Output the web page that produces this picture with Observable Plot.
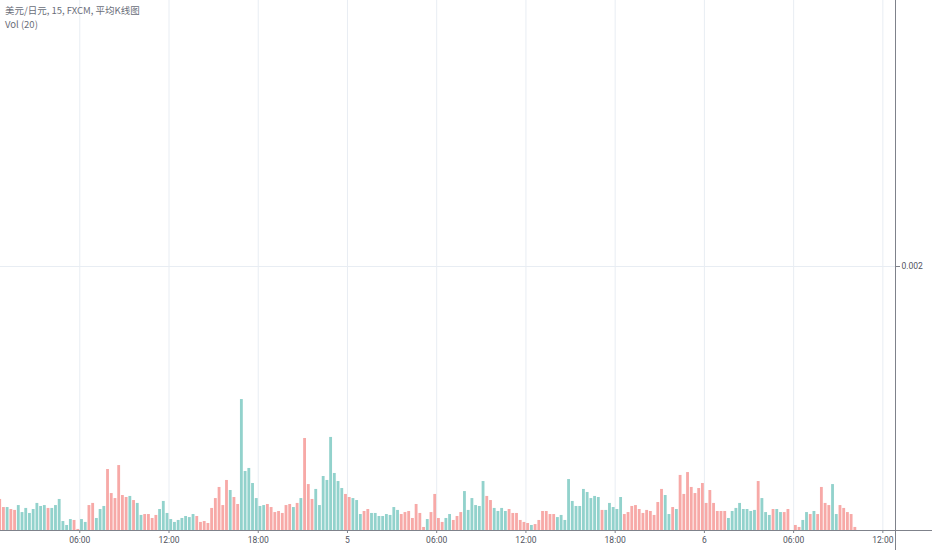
<!DOCTYPE html>
<html><head><meta charset="utf-8">
<script src="https://cdn.jsdelivr.net/npm/d3@7"></script>
<script src="https://cdn.jsdelivr.net/npm/@observablehq/plot@0.6"></script>
<style>
html,body{margin:0;padding:0;background:#fff;}
#wrap{position:relative;width:932px;height:550px;overflow:hidden;}
#legend{position:absolute;left:5px;top:3px;font-family:"Noto Sans CJK SC","Noto Sans",sans-serif;color:#6a6e79;z-index:2;}
#legend div{line-height:14px;white-space:nowrap;}
#chart svg{display:block;}
</style></head><body>
<div id="wrap">
  <div id="legend"><div id="title" style="font-size:9.5px"></div><div id="sub" style="font-size:9.5px"></div></div>
  <div id="chart"></div>
</div>
<script>
const titleText = "美元/日元, 15, FXCM, 平均K线图";
const studyText = "Vol (20)";

// volume per 15-minute bar
const volume = [
  235e-6,174e-6,174e-6,159e-6,152e-6,189e-6,136e-6,167e-6,129e-6,159e-6,
  205e-6,182e-6,189e-6,167e-6,167e-6,189e-6,235e-6,68e-6,38e-6,83e-6,
  76e-6,8e-6,83e-6,61e-6,189e-6,205e-6,91e-6,159e-6,182e-6,462e-6,
  280e-6,242e-6,492e-6,265e-6,250e-6,258e-6,227e-6,205e-6,114e-6,121e-6,
  121e-6,91e-6,114e-6,159e-6,220e-6,129e-6,83e-6,61e-6,76e-6,91e-6,
  106e-6,98e-6,121e-6,106e-6,61e-6,68e-6,53e-6,167e-6,242e-6,326e-6,
  189e-6,379e-6,303e-6,250e-6,197e-6,992e-6,447e-6,470e-6,356e-6,242e-6,
  182e-6,189e-6,197e-6,174e-6,136e-6,144e-6,129e-6,189e-6,197e-6,174e-6,
  205e-6,242e-6,697e-6,348e-6,235e-6,311e-6,189e-6,409e-6,379e-6,705e-6,
  432e-6,371e-6,318e-6,273e-6,250e-6,242e-6,227e-6,121e-6,144e-6,159e-6,
  129e-6,129e-6,106e-6,106e-6,121e-6,114e-6,174e-6,152e-6,121e-6,136e-6,
  144e-6,91e-6,197e-6,129e-6,23e-6,83e-6,136e-6,273e-6,91e-6,61e-6,
  91e-6,121e-6,76e-6,106e-6,136e-6,295e-6,152e-6,242e-6,189e-6,182e-6,
  371e-6,258e-6,227e-6,167e-6,144e-6,167e-6,144e-6,159e-6,129e-6,129e-6,
  76e-6,61e-6,53e-6,38e-6,45e-6,76e-6,144e-6,144e-6,121e-6,121e-6,
  98e-6,114e-6,76e-6,386e-6,220e-6,182e-6,182e-6,311e-6,288e-6,242e-6,
  258e-6,250e-6,152e-6,152e-6,205e-6,174e-6,159e-6,250e-6,121e-6,136e-6,
  182e-6,189e-6,159e-6,129e-6,152e-6,144e-6,114e-6,212e-6,311e-6,265e-6,
  121e-6,174e-6,159e-6,417e-6,273e-6,439e-6,326e-6,280e-6,318e-6,356e-6,
  205e-6,303e-6,205e-6,144e-6,144e-6,144e-6,91e-6,144e-6,167e-6,205e-6,
  159e-6,159e-6,144e-6,152e-6,371e-6,242e-6,136e-6,114e-6,159e-6,159e-6,
  136e-6,136e-6,159e-6,0,38e-6,23e-6,76e-6,136e-6,121e-6,144e-6,
  121e-6,326e-6,205e-6,189e-6,348e-6,121e-6,189e-6,167e-6,136e-6,121e-6,23e-6
];

// candle direction of each bar: u = up (teal), d = down (red), ten per group
const direction = [
  "ddudduuuuu","uuuduuuuuu","dduudduuud","ddddduduud",
  "ddduuuuuuu","uuuddddddd","ddudduuuuu","uudddddddu",
  "duddduuuuu","uuudduuudd","uuuuuuuudd","dddddudddd",
  "uuddduuuuu","udduuuuddd","dddudddddd","uuuuuuuuuu",
  "uuduuuuudd","dddddddddu","ududdddddd","dddddduuuu",
  "uuuuduuudu","uddddduudu","dddduuddddd"
].join("").split("");

const tickIndex = [21.4, 45.4, 69.4, 93.4, 117.4, 141.4, 165.4, 189.4, 213.4, 237.4];
const tickLabels = ["06:00", "12:00", "18:00", "5", "06:00", "12:00", "18:00", "6", "06:00", "12:00"];
const yTicks = [0.002];

const bars = volume.map((v, i) => ({i, v, dir: direction[i]}));
const labelOf = new Map(tickIndex.map((t, k) => [t, tickLabels[k]]));

document.getElementById("title").textContent = titleText;
document.getElementById("sub").textContent = studyText;

const xDomain = [0.08, 240.8];
const yDomain = [0, 0.0040152];
const yBelow = -0.000152;
const xFar = 250.75;
const gridColor = "#e8edf3";
const axisColor = "#7f828b";
const textColor = "#50535e";

const plot = Plot.plot({
  width: 932,
  height: 550,
  marginLeft: 0,
  marginRight: 37,
  marginTop: 0,
  marginBottom: 20,
  style: {fontFamily: "Roboto, sans-serif", background: "#fff", overflow: "visible"},
  x: {type: "linear", domain: xDomain, axis: null},
  y: {type: "linear", domain: yDomain, axis: null},
  marks: [
    Plot.ruleX(tickIndex, {stroke: gridColor, strokeWidth: 1}),
    Plot.ruleY(yTicks, {stroke: gridColor, strokeWidth: 1}),
    Plot.rectY(bars, {
      x1: d => d.i - 0.38,
      x2: d => d.i + 0.38,
      y: "v",
      fill: d => d.dir === "u" ? "#26a69a" : "#ef5350",
      fillOpacity: 0.5
    }),
    Plot.ruleY([0], {x1: xDomain[0], x2: xFar, stroke: axisColor, strokeWidth: 1}),
    Plot.ruleX([xDomain[1]], {y1: yDomain[1], y2: yBelow, stroke: axisColor, strokeWidth: 1}),
    Plot.axisX({
      ticks: tickIndex,
      tickFormat: d => labelOf.get(d),
      label: null,
      tickSize: 3,
      tickPadding: 3,
      fontSize: 8.5,
      stroke: axisColor,
      fill: textColor
    }),
    Plot.axisY({
      anchor: "right",
      ticks: yTicks,
      tickFormat: d3.format(".3f"),
      label: null,
      tickSize: 4,
      tickPadding: 2,
      fontSize: 8.5,
      stroke: axisColor,
      fill: textColor
    })
  ]
});
document.getElementById("chart").appendChild(plot);
</script>
</body></html>
